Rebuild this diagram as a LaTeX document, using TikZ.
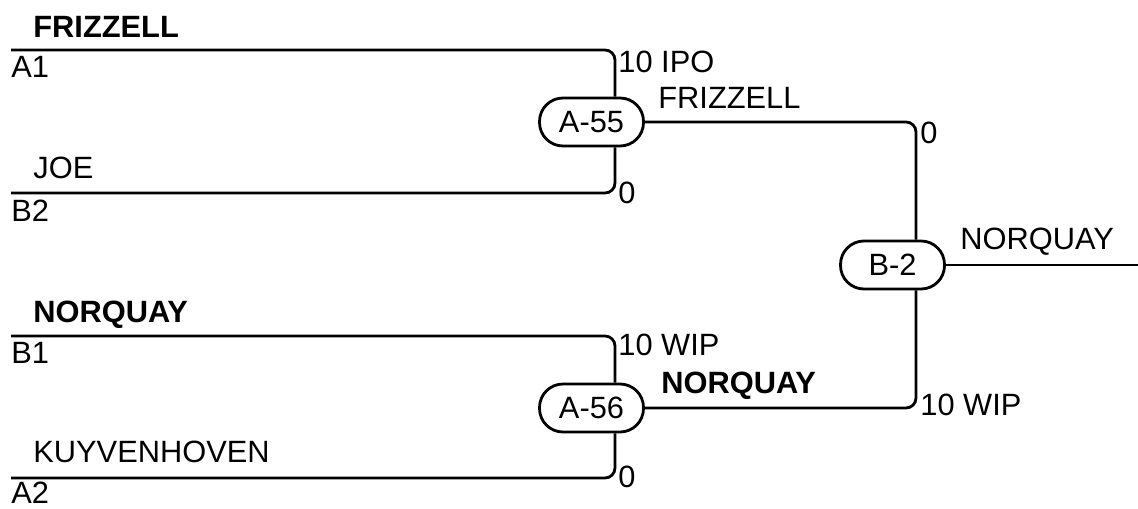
\documentclass[tikz,border=0pt]{standalone}
\usepackage{fontspec}
\setmainfont{Liberation Sans}
\usepackage{tikz}
\usetikzlibrary{arrows.meta,positioning,calc}

\tikzset{
  game/.style={draw, line width=1.4pt, rounded corners=11.75pt, minimum width=52pt,
    minimum height=24pt, inner sep=0pt, font=\fontsize{15.4pt}{18pt}\selectfont},
  lbl/.style={anchor=base west, inner sep=0pt, font=\fontsize{15.4pt}{18pt}\selectfont},
  blbl/.style={lbl, font=\fontsize{15.4pt}{18pt}\selectfont\bfseries},
  wire/.style={line width=1.4pt, rounded corners=5pt}
}

\begin{document}
\begin{tikzpicture}[x=0.5pt, y=-0.5pt]
  \useasboundingbox (0,0) rectangle (1138,508);

  % Define nodes
  \node[game] (m55) at (591.5,122) {A-55};
  \node[game] (m56) at (591.5,408) {A-56};
  \node[game] (mb2) at (892.5,265) {B-2};

  \coordinate (sa1) at (11,50);
  \coordinate (sb2) at (11,193);
  \coordinate (sb1) at (11,336);
  \coordinate (sa2) at (11,478);
  \coordinate (win) at (1138,265);

  % Draw lines
  \draw[wire] (sa1) -| ([xshift=11.75pt]m55.north);
  \draw[wire] (sb2) -| ([xshift=11.75pt]m55.south);
  \draw[wire] (sb1) -| ([xshift=11.75pt]m56.north);
  \draw[wire] (sa2) -| ([xshift=11.75pt]m56.south);
  \draw[wire] (m55.east) -| ([xshift=11.75pt]mb2.north);
  \draw[wire] (m56.east) -| ([xshift=11.75pt]mb2.south);
  \draw[wire] (mb2.east) -- (win);

  % Add team labels
  \node[blbl] (t1) at (33,38) {FRIZZELL};
  \node[lbl] (s1) at (11,78) {A1};
  \node[lbl] (t2) at (33,178) {JOE};
  \node[lbl] (s2) at (11,221) {B2};
  \node[blbl] (t3) at (33,322) {NORQUAY};
  \node[lbl] (s3) at (11,363) {B1};
  \node[lbl] (t4) at (33,462) {KUYVENHOVEN};
  \node[lbl] (s4) at (11,503) {A2};

  % Add scores and winners
  \node[lbl] (r1) at (618,73) {10 IPO};
  \node[lbl] (w1) at (658,108) {FRIZZELL};
  \node[lbl] (r2) at (618,203) {0};
  \node[lbl] (r3) at (618,355) {10 WIP};
  \node[blbl] (w2) at (661,393) {NORQUAY};
  \node[lbl] (r4) at (618,487) {0};
  \node[lbl] (r5) at (920,143) {0};
  \node[lbl] (r6) at (920,415) {10 WIP};
  \node[lbl] (w3) at (960,249) {NORQUAY};
\end{tikzpicture}
\end{document}
